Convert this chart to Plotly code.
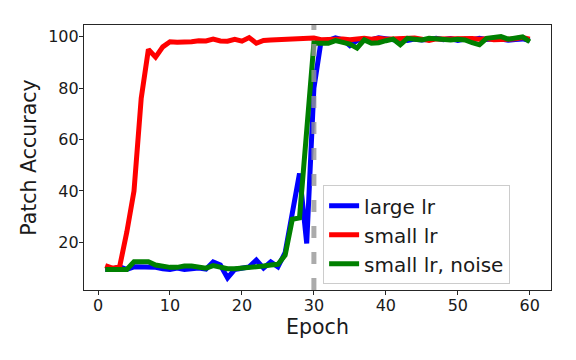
import plotly.graph_objects as go


# -------------------------------------------------
# Data
# -------------------------------------------------

epochs = list(range(1, 61))

large_lr = [
    9.5, 9.6, 10.5, 9.5, 10.5, 10.5, 10.5, 10.3, 9.8, 9.5,
    10.0, 9.5, 9.8, 10.0, 9.6, 12.4, 11.2, 6.2, 9.5, 10.0,
    10.5, 13.1, 10.0, 12.4, 10.5, 16.0, 31.0, 46.8, 19.6, 80.0,
    98.3, 98.5, 99.5, 98.8, 96.5, 98.5, 99.0, 98.8, 99.5, 99.0,
    98.8, 99.0, 98.5, 99.0, 98.7, 99.0, 99.3, 98.8, 99.2, 98.5,
    99.0, 98.8, 99.3, 98.9, 99.2, 99.0, 98.6, 98.9, 99.1, 98.5,
]

small_lr = [
    11.0, 10.0, 10.5, 24.0, 40.0, 76.0, 95.0, 92.0, 96.0, 98.0,
    97.8, 97.7, 98.0, 98.4, 98.3, 99.0, 98.3, 98.2, 98.9, 98.2,
    99.6, 97.4, 98.5, 98.7, 98.8, 98.8, 99.0, 98.9, 99.1, 99.4,
    98.8, 99.0, 99.1, 99.1, 98.8, 99.2, 99.3, 99.0, 99.3, 99.0,
    99.2, 99.0, 99.3, 99.4, 99.0, 98.5, 99.1, 99.2, 99.0, 99.2,
    99.1, 99.3, 99.0, 99.2, 98.8, 99.1, 99.0, 99.2, 99.6, 99.0,
]

small_lr_noise = [
    9.5, 9.5, 9.5, 9.5, 12.5, 12.5, 12.5, 11.2, 10.5, 10.3,
    10.3, 10.8, 10.8, 10.2, 10.0, 11.0, 10.5, 9.8, 9.8, 10.0,
    10.2, 10.2, 10.8, 11.2, 11.5, 15.0, 29.0, 29.5, 66.0, 97.5,
    97.4, 97.4, 98.4, 97.6, 97.1, 95.5, 98.7, 97.4, 97.6, 98.4,
    99.0, 96.8, 99.3, 99.0, 98.7, 99.3, 99.0, 98.7, 98.7, 99.0,
    98.7, 97.6, 96.8, 99.3, 99.6, 100.0, 99.0, 99.3, 99.9, 98.0,
]

switch_epoch = 30


# -------------------------------------------------
# Accuracy Chart
# -------------------------------------------------

fig = go.Figure()

fig.add_trace(
    go.Scatter(
        x=epochs,
        y=large_lr,
        mode="lines",
        name="large lr",
        line=dict(color="#0000ff", width=5)
    )
)

fig.add_trace(
    go.Scatter(
        x=epochs,
        y=small_lr,
        mode="lines",
        name="small lr",
        line=dict(color="#ff0000", width=5)
    )
)

fig.add_trace(
    go.Scatter(
        x=epochs,
        y=small_lr_noise,
        mode="lines",
        name="small lr, noise",
        line=dict(color="#008000", width=5)
    )
)

fig.add_vline(
    x=switch_epoch,
    line=dict(color="rgba(150,150,150,0.8)", width=5, dash="12px,14px"),
    layer="above"
)

axis_style = dict(
    showline=True,
    mirror=True,
    linecolor="#262626",
    linewidth=1.2,
    ticks="outside",
    ticklen=4,
    tickcolor="#262626",
    ticklabelstandoff=-3,
    showgrid=False,
    zeroline=False,
    tickfont=dict(size=16, color="#1a1a1a"),
)

# page body adds 8px margin, so the figure is drawn 8px smaller
fig.update_layout(
    template="plotly_white",
    width=568,
    height=352,
    margin=dict(l=76, r=25, t=17, b=70),
    font=dict(family="DejaVu Sans", color="#1a1a1a"),
    xaxis=dict(
        range=[-1.95, 62.95],
        tickvals=[0, 10, 20, 30, 40, 50, 60],
        title=dict(text="Epoch", font=dict(size=20.5), standoff=3),
        **axis_style
    ),
    yaxis=dict(
        range=[1.5, 104.5],
        tickvals=[20, 40, 60, 80, 100],
        title=dict(text="Patch Accuracy", font=dict(size=20.5), standoff=5),
        **axis_style
    ),
    legend=dict(
        x=0.512,
        y=0.395,
        xanchor="left",
        yanchor="top",
        font=dict(size=20),
        bgcolor="rgba(255,255,255,0.8)",
        bordercolor="#cccccc",
        borderwidth=1,
    ),
    showlegend=True,
)

fig.write_html("out.html")
